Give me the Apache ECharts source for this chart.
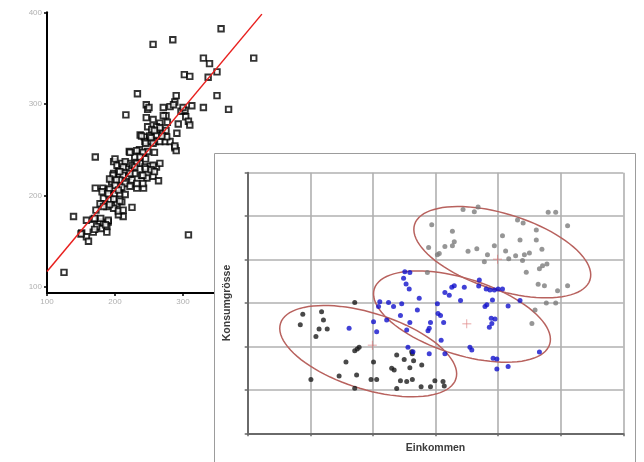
<!DOCTYPE html>
<html><head><meta charset="utf-8">
<script src="https://cdn.jsdelivr.net/npm/echarts@6/dist/echarts.min.js"></script>
<style>html,body{margin:0;padding:0;background:#fff}#c{width:644px;height:462px}</style>
</head><body><div id="c"></div>
<script>
// ---- left chart: scatter with regression line ----
const scatterPoints = [
[356,382],[285,370],[256,365],[404,350],[330,350],[339,344],[302,332],[310,330],[337,329],[350,335],[350,309],[367,294],
[233,311],[290,309],[288,302],[246,299],[248,294],[271,296],[281,297],[286,299],[313,298],[330,296],[216,288],[246,285],
[256,283],[275,287],[277,280],[266,279],[261,275],[291,268],[304,286],[308,281],[310,277],[297,292],[303,293],[248,275],
[254,272],[237,266],[243,264],[251,265],[244,259],[252,259],[259,259],[266,259],[274,259],[281,259],[261,266],[270,268],
[276,264],[288,252],[290,249],[236,250],[242,246],[248,248],[221,248],[229,242],[171,242],[198,237],[203,233],[210,235],
[216,231],[221,235],[226,233],[237,235],[244,231],[252,232],[261,231],[266,235],[229,224],[239,222],[247,219],[256,221],
[264,216],[198,224],[205,226],[212,222],[220,221],[225,217],[195,215],[207,217],[215,213],[222,210],[232,208],[242,208],
[171,208],[182,208],[190,206],[200,202],[207,202],[215,201],[183,197],[193,195],[203,191],[210,193],[178,191],[188,188],
[198,186],[212,177],[205,179],[225,187],[139,177],[158,173],[168,174],[178,171],[183,170],[190,171],[188,166],[180,164],
[173,166],[168,160],[151,159],[158,155],[161,150],[308,157],[125,116],
[250,296],[300,296],[271,287],[293,278],[266,274],[258,271],[275,271],[239,265],[253,263],[269,265],[245,257],[256,257],
[288,254],[232,249],[222,247],[241,247],[258,247],[237,242],[245,240],[200,240],[215,237],[232,235],[256,233],[212,231],
[229,231],[245,229],[253,228],[207,226],[258,226],[197,222],[222,224],[241,222],[192,218],[202,217],[241,213],[232,213],
[200,211],[210,209],[192,207],[205,206],[181,204],[190,202],[198,196],[207,194],[192,190],[183,188],[172,184],[205,183],
[212,184],[170,175],[179,175],[190,173],[186,168],[170,163],[150,158],[188,160]
];
const regressionLine = [[100,117],[416,398]];
const leftYTicks = [100,200,300,400];

// ---- right chart: three clusters ----
const axisNameX = 'Einkommen';
const axisNameY = 'Konsumgrösse';
const clusterLow = [
[1.71,3.01],[0.88,2.74],[0.84,2.50],[1.18,2.80],[1.21,2.61],[1.14,2.40],[1.27,2.40],[1.09,2.23],[1.71,1.90],[1.75,1.94],
[1.78,1.98],[1.57,1.64],[2.01,1.64],[1.74,1.34],[1.46,1.32],[1.01,1.24],[1.97,1.24],[2.06,1.24],[1.71,1.04],[2.38,1.80],
[2.30,1.50],[2.34,1.46],[2.38,1.03],[2.62,1.88],[2.63,1.83],[2.50,1.70],[2.65,1.67],[2.59,1.51],[2.78,1.57],[2.44,1.21],
[2.54,1.19],[2.63,1.24],[2.77,1.07],[2.92,1.07],[2.99,1.21],[3.12,1.19],[3.14,1.09]
];
const clusterMid = [
[2.51,3.72],[2.59,3.70],[2.49,3.57],[2.53,3.44],[2.58,3.32],[2.74,3.11],[2.11,3.03],[2.09,2.92],[2.25,3.01],[2.33,2.92],
[2.46,2.98],[2.44,2.71],[2.71,2.84],[2.59,2.55],[2.01,2.57],[2.06,2.34],[2.22,2.61],[1.62,2.42],[2.54,2.38],[2.56,1.98],
[2.64,1.88],[2.90,1.83],[3.15,1.83],[3.09,2.14],[2.92,2.55],[2.90,2.42],[2.88,2.36],[3.03,2.98],[3.04,2.76],[3.08,2.71],
[3.13,2.55],[3.15,3.24],[3.22,3.18],[3.26,3.36],[3.30,3.40],[3.40,3.06],[3.46,3.36],[3.70,3.53],[3.69,3.39],[3.81,3.32],
[3.87,3.30],[3.94,3.30],[4.00,3.32],[4.07,3.32],[3.91,3.07],[3.79,2.92],[3.82,2.96],[3.89,2.65],[3.95,2.63],[3.90,2.53],
[3.86,2.44],[4.16,2.93],[4.35,3.06],[3.55,1.98],[3.58,1.92],[3.92,1.73],[3.98,1.71],[3.98,1.48],[4.16,1.54],[4.66,1.87]
];
const clusterHigh = [
[2.94,4.80],[3.44,5.15],[3.62,5.10],[3.68,5.21],[3.27,4.65],[3.30,4.41],[3.27,4.32],[3.15,4.30],[3.06,4.14],[2.89,4.28],
[3.52,4.19],[3.66,4.25],[3.94,4.32],[4.07,4.55],[3.78,3.95],[3.83,4.11],[4.12,4.20],[4.17,4.02],[4.28,4.09],[4.35,4.45],
[4.39,3.98],[4.42,4.11],[4.50,4.15],[4.61,4.45],[4.61,4.68],[4.31,4.91],[4.40,4.84],[4.70,4.24],[4.45,3.71],[4.66,3.79],
[4.71,3.86],[4.78,3.90],[4.64,3.43],[4.74,3.40],[4.95,3.28],[5.11,3.40],[4.80,5.09],[4.92,5.09],[5.11,4.78],[4.77,3.00],
[4.92,3.00],[4.54,2.53],[4.59,2.84],[2.87,3.70],[3.03,4.11]
];
const centroids = [[1.99,2.03],[3.50,2.52],[3.99,4.01]];
// ellipse: centre x, centre y, first semi-axis (dx, dy), second semi-axis (dx, dy)
const ellipses = [
[1.925,1.892,1.401,-0.638,-0.183,-0.835],
[3.423,2.687,1.401,-0.638,-0.183,-0.835],
[4.067,4.171,1.401,-0.638,-0.183,-0.835]
];

const chart = echarts.init(document.getElementById('c'), null, {renderer:'canvas'});
const font = 'Liberation Sans, Arial, sans-serif';
const rAxisColor = '#6a6a6a';
const rGridColor = '#b0b0b0';

chart.setOption({
  animation:false,
  backgroundColor:'#fff',
  grid:[
    {left:47, top:12.3, width:217.6, height:280.7, containLabel:false},
    {left:247.7, top:172.7, width:375.6, height:260.6, containLabel:false}
  ],
  xAxis:[
    {gridIndex:0, type:'value', min:100, max:420, interval:100, zlevel:0,
     axisLine:{show:true, onZero:false, lineStyle:{color:'#000', width:2}},
     axisTick:{show:true, length:3, lineStyle:{color:'#000', width:1.5}},
     axisLabel:{fontSize:8, color:'#b0b0b0', margin:5, fontFamily:font},
     splitLine:{show:false}},
    {gridIndex:1, type:'value', min:0, max:6, interval:1, zlevel:2,
     name:axisNameX, nameLocation:'middle', nameGap:9,
     nameTextStyle:{fontSize:10.5, fontWeight:'bold', color:'#3c3c3c', fontFamily:font},
     axisLine:{show:true, onZero:false, lineStyle:{color:rAxisColor, width:2}},
     axisTick:{show:true, length:3, lineStyle:{color:rAxisColor, width:1.5}},
     axisLabel:{show:false},
     splitLine:{show:true, lineStyle:{color:rGridColor, width:1.6}}}
  ],
  yAxis:[
    {gridIndex:0, type:'value', min:93.5, max:400, zlevel:0,
     axisLine:{show:true, onZero:false, lineStyle:{color:'#000', width:2}},
     axisTick:{show:true, length:3, customValues:leftYTicks, lineStyle:{color:'#000', width:1.5}},
     axisLabel:{fontSize:8, color:'#b0b0b0', margin:5, fontFamily:font, customValues:leftYTicks},
     splitLine:{show:false}},
    {gridIndex:1, type:'value', min:0, max:6, interval:1, zlevel:2,
     name:axisNameY, nameLocation:'middle', nameGap:15, nameRotate:90,
     nameTextStyle:{fontSize:10.5, fontWeight:'bold', color:'#3c3c3c', fontFamily:font},
     axisLine:{show:true, onZero:false, lineStyle:{color:rAxisColor, width:2}},
     axisTick:{show:true, length:3, lineStyle:{color:rAxisColor, width:1.5}},
     axisLabel:{show:false},
     splitLine:{show:true, lineStyle:{color:rGridColor, width:1.6}}}
  ],
  graphic:[
    {type:'rect', zlevel:1, z:1, shape:{x:214.5, y:153.5, width:421, height:320},
     style:{fill:'#fff', stroke:'#9c9c9c', lineWidth:1}}
  ],
  series:[
    {type:'scatter', xAxisIndex:0, yAxisIndex:0, zlevel:0, data:scatterPoints,
     symbol:'rect', symbolSize:5.5, itemStyle:{color:'#fff', borderColor:'#000', borderWidth:1.9}},
    {type:'line', xAxisIndex:0, yAxisIndex:0, zlevel:0, data:regressionLine, showSymbol:false,
     lineStyle:{color:'#e8201e', width:1.5}},
    {type:'scatter', xAxisIndex:1, yAxisIndex:1, zlevel:2, data:clusterLow,
     symbol:'circle', symbolSize:5, itemStyle:{color:'#1c1c1c'}},
    {type:'scatter', xAxisIndex:1, yAxisIndex:1, zlevel:2, data:clusterMid,
     symbol:'circle', symbolSize:5, itemStyle:{color:'#1212cc'}},
    {type:'scatter', xAxisIndex:1, yAxisIndex:1, zlevel:2, data:clusterHigh,
     symbol:'circle', symbolSize:5, itemStyle:{color:'#7c7c7c'}},
    {type:'custom', xAxisIndex:1, yAxisIndex:1, zlevel:2, data:ellipses, clip:false,
     renderItem:function(params, api){
       const cx=api.value(0), cy=api.value(1), ux=api.value(2), uy=api.value(3), vx=api.value(4), vy=api.value(5);
       const pts=[];
       for(let i=0;i<=90;i++){
         const t=i/90*Math.PI*2;
         pts.push(api.coord([cx+ux*Math.cos(t)+vx*Math.sin(t), cy+uy*Math.cos(t)+vy*Math.sin(t)]));
       }
       return {type:'polygon', shape:{points:pts}, style:{fill:'none', stroke:'#b8625e', lineWidth:1.5}};
     }},
    {type:'scatter', xAxisIndex:1, yAxisIndex:1, zlevel:2, data:centroids,
     symbol:'path://M0,4.6H10V5.4H0Z M4.6,0H5.4V10H4.6Z', symbolSize:9,
     itemStyle:{color:'#d86a6a'}}
  ]
});
</script>
</body></html>
